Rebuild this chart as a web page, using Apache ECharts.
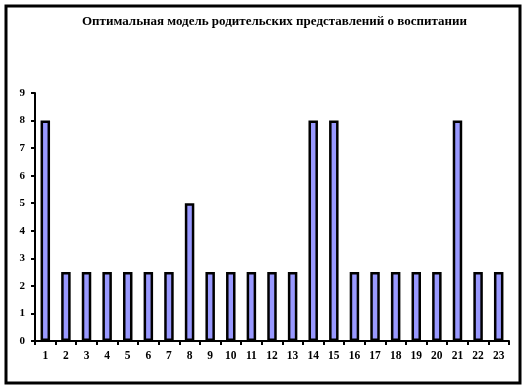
<!DOCTYPE html>
<html><head><meta charset="utf-8">
<script src="https://cdn.jsdelivr.net/npm/echarts@6/dist/echarts.min.js"></script>
<style>html,body{margin:0;padding:0;background:#fff}#c{width:527px;height:389px}</style>
</head><body><div id="c"></div>
<script>
const titleText = 'Оптимальная модель родительских представлений о воспитании';
const categories = ['1','2','3','4','5','6','7','8','9','10','11','12','13','14','15','16','17','18','19','20','21','22','23'];
const values = [8,2.5,2.5,2.5,2.5,2.5,2.5,5,2.5,2.5,2.5,2.5,2.5,8,8,2.5,2.5,2.5,2.5,2.5,8,2.5,2.5];
const yTicks = [0,1,2,3,4,5,6,7,8,9];

const font = '"Liberation Serif","Times New Roman",serif';
const chart = echarts.init(document.getElementById('c'), null, {renderer:'canvas'});
chart.setOption({
  animation:false,
  backgroundColor:'#fff',
  title:{text:titleText,left:77,top:10,textStyle:{fontFamily:font,fontSize:13,fontWeight:'bold',color:'#000'}},
  grid:{left:35,right:18,top:93,bottom:48},
  xAxis:{type:'category',data:categories,boundaryGap:true,
    axisLine:{lineStyle:{color:'#000',width:2}},
    axisTick:{show:true,length:4,lineStyle:{color:'#000',width:2},alignWithLabel:false},
    axisLabel:{fontFamily:font,fontSize:11.5,fontWeight:'bold',color:'#000',margin:9,interval:0}},
  yAxis:{type:'value',min:yTicks[0],max:yTicks[yTicks.length-1],interval:1,
    axisLine:{show:true,lineStyle:{color:'#000',width:2}},
    axisTick:{show:true,length:4,lineStyle:{color:'#000',width:2}},
    splitLine:{show:false},
    axisLabel:{fontFamily:font,fontSize:11,fontWeight:'bold',color:'#000',margin:10}},
  series:[{type:'bar',data:values,barWidth:'46%',
    itemStyle:{color:'#9999FF',borderColor:'#000',borderWidth:2.5}}],
  graphic:[{type:'rect',shape:{x:6,y:6,width:514,height:377},style:{fill:'none',stroke:'#000',lineWidth:3},silent:true}]
});
</script></body></html>
